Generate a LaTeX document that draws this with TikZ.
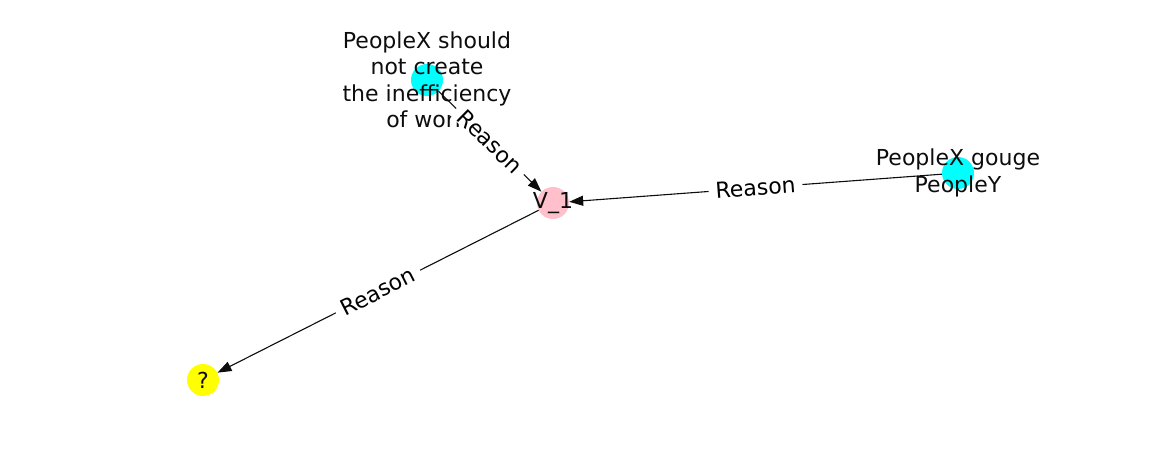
\documentclass[tikz,border=0pt]{standalone}
\usepackage{fontspec}
\setmainfont{DejaVu Sans}
\usetikzlibrary{arrows.meta}
\usetikzlibrary{positioning}
\definecolor{knotencyan}{HTML}{00FFFF}
\definecolor{knotenrosa}{HTML}{FFC0CB}
\definecolor{knotengelb}{HTML}{FFFF00}
\tikzset{
	>={Triangle[length=14pt,width=10pt]},
	knoten/.style={
		circle,
		minimum size=32pt,
		inner sep=0pt,
		draw=none},
	beschrift/.style={
		align=center,
		inner sep=0pt,
		text=black!95,
		font=\fontsize{22}{26.4}\selectfont},
	kante/.style={draw, line width=1.1pt, black!95, ->},
	grund/.style={
		sloped,
		midway,
		fill=white,
		text=black,
		rounded corners=2pt,
		inner xsep=7pt,
		inner ysep=1pt,
		font=\fontsize{22}{26.4}\selectfont},
}
\begin{document}
\begin{tikzpicture}
		[x=1pt, y=-1pt]
		\useasboundingbox (0,0) rectangle (1162,462);
		\node[knoten, fill=knotenrosa] (mitte)  at (553,203) {};
		\node[knoten, fill=knotencyan] (oben)   at (427,80)  {};
		\node[knoten, fill=knotencyan] (rechts) at (958,173) {};
		\node[knoten, fill=knotengelb] (frage)  at (203,380) {};
		% Beschriftungen
		\node[beschrift] at (mitte)  {V\_1};
		\node[beschrift] at (oben)   {PeopleX should\\not create\\the inefficiency\\of work};
		\node[beschrift] at (rechts) {PeopleX gouge\\PeopleY};
		\node[beschrift] at (frage)  {?};
		% Kanten
		\path[kante] (oben) -- (mitte) node[grund] {Reason};
		\path[kante] (rechts) -- (mitte) node[grund] {Reason};
		\path[kante] (mitte) -- (frage) node[grund] {Reason};
\end{tikzpicture}
\end{document}
